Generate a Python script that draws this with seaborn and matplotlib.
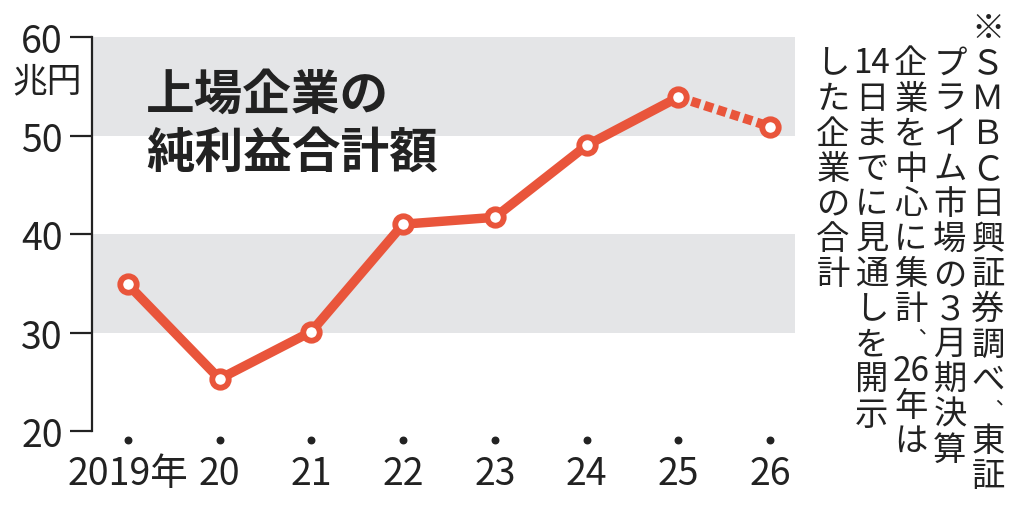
import seaborn as sns
import matplotlib.pyplot as plt
import pandas as pd

years = [2019, 2020, 2021, 2022, 2023, 2024, 2025, 2026]
year_labels = ["2019年", "20", "21", "22", "23", "24", "25", "26"]
profit = [34.9, 25.3, 30.1, 41.0, 41.7, 49.0, 53.9, 50.9]
y_ticks = [20, 30, 40, 50, 60]
bands = [(30, 40), (50, 60)]

title_lines = ["上場企業の", "純利益合計額"]
unit_label = "兆円"
# vertical note, right to left columns; "︑" is the vertical comma (half cell)
note_cols = [
    ["※", "Ｓ", "Ｍ", "Ｂ", "Ｃ", "日", "興", "証", "券", "調", "べ", "︑", "東", "証"],
    ["プ", "ラ", "イ", "ム", "市", "場", "の", "３", "月", "期", "決", "算"],
    ["企", "業", "を", "中", "心", "に", "集", "計", "︑", "26", "年", "は"],
    ["14", "日", "ま", "で", "に", "見", "通", "し", "を", "開", "示"],
    ["し", "た", "企", "業", "の", "合", "計"],
]

RED = "#E9553B"
BAND = "#E4E5E7"
INK = "#222222"
JP_FONT = ["Noto Sans CJK JP", "DejaVu Sans"]

df = pd.DataFrame({"year": years, "profit": profit})
solid = df.iloc[:7]
dashed = df.iloc[6:]

sns.set_theme(style="white")
plt.rcParams["font.family"] = JP_FONT

W, H = 1024, 506
fig = plt.figure(figsize=(W / 100, H / 100), dpi=100)
ax = fig.add_axes([92 / W, 1 - 441 / H, (795 - 92) / W, (441 - 38) / H])

for lo, hi in bands:
    ax.axhspan(lo, hi, color=BAND, lw=0, zorder=0)

sns.lineplot(data=solid, x="year", y="profit", color=RED, lw=6.8, ax=ax,
             solid_capstyle="butt", zorder=3)
sns.lineplot(data=dashed, x="year", y="profit", color=RED, lw=6.8, ax=ax,
             zorder=3).lines[-1].set_linestyle((0, (0.95, 0.5)))
sns.scatterplot(data=df, x="year", y="profit", s=140, color="white",
                edgecolor=RED, linewidth=4.2, ax=ax, zorder=5)

# dots under each year
ax.scatter(years, [0] * len(years), s=22, color=INK,
           transform=ax.get_xaxis_transform(), clip_on=False, zorder=6)

ax.set_xlim(2018.61, 2026.27)
ax.set_ylim(19.1, 60)
ax.set_yticks(y_ticks)
ax.set_yticklabels([str(v) for v in y_ticks], fontsize=27, color=INK)
ax.set_xticks(years)
ax.set_xticklabels(year_labels, fontsize=27, color=INK)
ax.set_xlabel("")
ax.set_ylabel("")

for s in ["top", "right", "bottom"]:
    ax.spines[s].set_visible(False)
ax.spines["left"].set_bounds(20, 60)
ax.spines["left"].set_linewidth(1.6)
ax.spines["left"].set_color(INK)
ax.tick_params(axis="y", length=16, width=1.6, color=INK, pad=5, left=True)
ax.tick_params(axis="x", length=0, pad=10)

fig.text(47 / W, 1 - 82 / H, unit_label, fontsize=25,
         ha="center", va="center", color=INK)

fig.text(146 / W, 1 - 95 / H, title_lines[0], fontsize=35,
         fontweight="bold", ha="left", va="center", color=INK)
fig.text(146 / W, 1 - 153 / H, title_lines[1], fontsize=35,
         fontweight="bold", ha="left", va="center", color=INK)

col_x = [988, 950, 911, 872, 833]
step = 35.1
for cx, chars in zip(col_x, note_cols):
    pos = 29 if chars[0] == "※" else 64
    for ch in chars:
        if ch == "︑":
            fig.text((cx + 5) / W, 1 - (pos - 5) / H, ch, fontsize=15,
                     ha="center", va="center", color=INK)
            pos += step * 0.75
            continue
        fig.text(cx / W, 1 - pos / H, ch, fontsize=24,
                 ha="center", va="center", color=INK)
        pos += step

fig.savefig("out.png", dpi=100)
